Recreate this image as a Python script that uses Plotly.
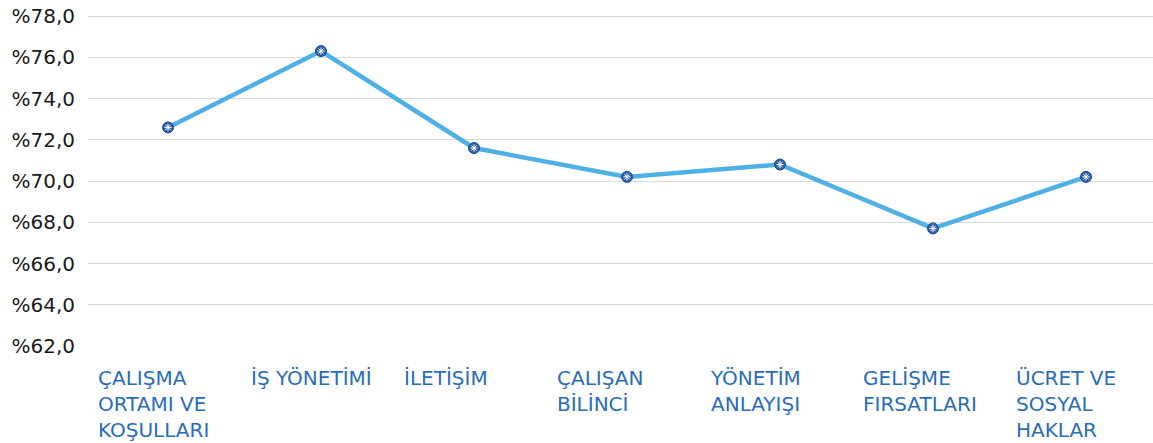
import plotly.graph_objects as go

categories = ["ÇALIŞMA<br>ORTAMI VE<br>KOŞULLARI", "İŞ YÖNETİMİ", "İLETİŞİM",
              "ÇALIŞAN<br>BİLİNCİ", "YÖNETİM<br>ANLAYIŞI", "GELİŞME<br>FIRSATLARI",
              "ÜCRET VE<br>SOSYAL<br>HAKLAR"]
values = [72.6, 76.3, 71.6, 70.2, 70.8, 67.7, 70.2]
y_ticks = [62, 64, 66, 68, 70, 72, 74, 76, 78]
y_tick_labels = ["%62,0", "%64,0", "%66,0", "%68,0", "%70,0", "%72,0", "%74,0", "%76,0", "%78,0"]

xs = list(range(len(categories)))

fig = go.Figure()
fig.add_trace(go.Scatter(
    x=xs, y=values, mode="lines+markers",
    line=dict(color="#4fb0e3", width=4.5),
    marker=dict(symbol="circle", size=11, color="#2c5ea8",
                line=dict(color="#1d4b94", width=1)),
    hoverinfo="skip", showlegend=False, cliponaxis=False,
))
fig.add_trace(go.Scatter(
    x=xs, y=values, mode="markers",
    marker=dict(symbol="asterisk-open", size=6, color="white",
                line=dict(color="white", width=1)),
    hoverinfo="skip", showlegend=False, cliponaxis=False,
))

for i, c in enumerate(categories):
    fig.add_annotation(
        x=i - 0.47, y=0, xref="x", yref="paper", yanchor="top", xanchor="left",
        yshift=-18, text=c, showarrow=False, align="left",
        font=dict(family="DejaVu Sans, sans-serif", size=20, color="#2b6cb8"),
    )

fig.update_layout(
    width=1153, height=443,
    margin=dict(l=88, r=0, t=15, b=97, autoexpand=False),
    paper_bgcolor="white", plot_bgcolor="white",
    xaxis=dict(range=[-0.523, 6.438], showgrid=False, zeroline=False, automargin=False,
               showticklabels=False, showline=False, fixedrange=True),
    yaxis=dict(range=[62, 78.05], tickvals=y_ticks, ticktext=y_tick_labels, automargin=False,
               showgrid=True, gridcolor="#d9d9d9", gridwidth=1, zeroline=False,
               showline=False, ticks="", ticklabelstandoff=12, fixedrange=True,
               tickfont=dict(family="DejaVu Sans, sans-serif", size=20, color="#1a1a1a")),
)

fig.write_html("out.html", config={"displayModeBar": False},
               post_script="document.body.style.margin='0';")
